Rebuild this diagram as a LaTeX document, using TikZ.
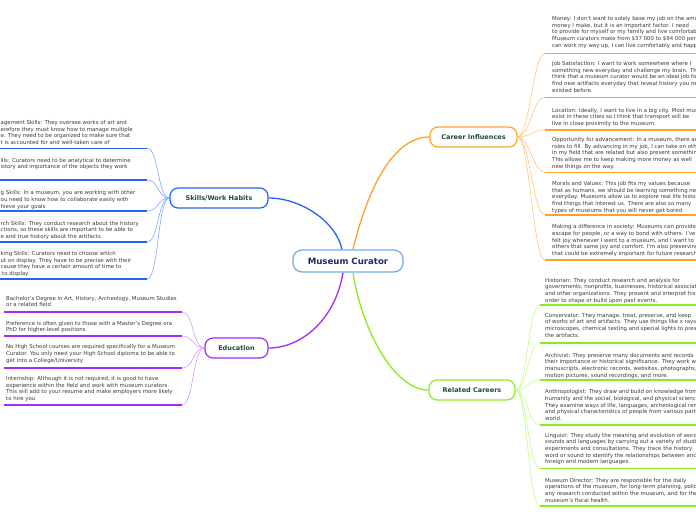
\documentclass[tikz,border=0pt]{standalone}
\usepackage{fontspec}
\setmainfont{DejaVu Sans}
\usetikzlibrary{calc}

\definecolor{rootblue}{HTML}{72AEE6}
\definecolor{rootink}{HTML}{1B2B5C}
\definecolor{labelgreen}{HTML}{1E4A3D}
\definecolor{itemink}{HTML}{3C3C3C}
\definecolor{skillblue}{HTML}{2563F5}
\definecolor{skillfan}{HTML}{86A8FF}
\definecolor{careerorange}{HTML}{FFA329}
\definecolor{careerfan}{HTML}{FFC67F}
\definecolor{edupurple}{HTML}{A52BF5}
\definecolor{edufan}{HTML}{D79BFF}
\definecolor{relgreen}{HTML}{8CEB1E}
\definecolor{relfan}{HTML}{C3FA8A}

\tikzset{
  root/.style={draw=rootblue, line width=1.3pt, rounded corners=9pt, fill=white,
    minimum width=110pt, minimum height=22pt, inner sep=0pt, text=rootink,
    font=\fontsize{8.6}{10}\selectfont\bfseries},
  branch/.style={line width=1.2pt, rounded corners=8pt, fill=white, minimum height=20pt,
    inner sep=0pt, text=labelgreen, font=\fontsize{6.5}{8}\selectfont\bfseries},
  itemtext/.style={anchor=north west, inner sep=0pt, align=left, text=itemink,
    font=\fontsize{5.4}{6.67}\selectfont},
  trunk/.style={line width=1.3pt},
  fan/.style={line width=0.6pt},
  underline/.style={line width=1.6pt},
}

\begin{document}
\begin{tikzpicture}[x=1pt,y=-1pt]
    \fill[white] (0,0) rectangle (696,520);
    \useasboundingbox (0,0) rectangle (696,520);

    % main topic and branches
    \node[root] (root) at (348,261) {Museum Curator};
    \node[branch, draw=skillblue, minimum width=98pt] (skills) at (219,198) {Skills/Work Habits};
    \node[branch, draw=edupurple, minimum width=63pt] (edu) at (236.5,348) {Education};
    \node[branch, draw=careerorange, minimum width=87pt] (career) at (473.5,137) {Career Influences};
    \node[branch, draw=relgreen, minimum width=86pt] (related) at (472,390) {Related Careers};

    \draw[trunk, skillblue] ([xshift=-6pt]root.north) .. controls +(-6,-28) and +(32,0) .. (skills.east);
    \draw[trunk, careerorange] ([xshift=5pt]root.north) .. controls +(12,-50) and +(-40,0) .. (career.west);
    \draw[trunk, edupurple] ([xshift=-5pt]root.south) .. controls +(-8,48) and +(32,0) .. (edu.east);
    \draw[trunk, relgreen] ([xshift=5pt]root.south) .. controls +(9,58) and +(-34,0) .. (related.west);

    % skills / work habits
    \node[itemtext] (skill1) at (0.5,120.1) {agement Skills: They oversee works of art and\\erefore they must know how to manage multiple\\e. They need to be organized to make sure that\\t is accounted for and well-taken care of};
    \node[itemtext] (skill2) at (0.5,157.8) {ills: Curators need to be analytical to determine\\istory and importance of the objects they work};
    \node[itemtext] (skill3) at (0.5,190.5) {g Skills: In a museum, you are working with other\\ou need to know how to collaborate easily with\\hieve your goals};
    \node[itemtext] (skill4) at (0.5,220.8) {rch Skills: They conduct research about the history\\ctions, so these skills are important to be able to\\e and true history about the artifacts};
    \node[itemtext] (skill5) at (0.5,251.1) {king Skills: Curators need to choose which\\ut on display. They have to be precise with their\\cause they have a certain amount of time to\\\hspace*{1.5pt}to display};
    \foreach \u [count=\i] in {148.3,180,211,242,279}
        \coordinate (skillu\i) at (147,\u);
    \foreach \i in {1,...,5}{
        \draw[fan, skillfan] (skills.west) .. controls +(-12,0) and +(12,0) .. (skillu\i);
        \draw[underline, skillblue] (skillu\i) -- ++(-150,0);
    }

    % education
    \node[itemtext] (edu1) at (6,295.8) {Bachelor's Degree in Art, History, Archeology, Museum Studies\\or a related field};
    \node[itemtext] (edu2) at (6,320.8) {Preference is often given to those with a Master's Degree ora\\PhD for higher-level positions};
    \node[itemtext] (edu3) at (6,344.5) {No High School courses are required specifically for a Museum\\Curator. You only need your High School diploma to be able to\\get into a College/University};
    \node[itemtext] (edu4) at (6,376.1) {Internship: Although it is not required, it is good to have\\experience within the field and work with museum curators.\\This will add to your resume and make employers more likely\\to hire you};
    \foreach \u [count=\i] in {312,336,368,405}
        \coordinate (eduu\i) at (182,\u);
    \foreach \i in {1,...,4}{
        \draw[fan, edufan] (edu.west) .. controls +(-12,0) and +(12,0) .. (eduu\i);
        \draw[underline, edupurple] (eduu\i) -- ++(-178,0);
    }

    % career influences
    \node[itemtext] (inf1) at (552,16.1) {Money: I don't want to solely base my job on the amount\\money I make, but it is an important factor. I need\\to provide for myself or my family and live comfortably\\Museum curators make from \$37 000 to \$94 000 per\\can work my way up, I can live comfortably and happily};
    \node[itemtext] (inf2) at (552,61.1) {Job Satisfaction: I want to work somewhere where I\\something new everyday and challenge my brain. This\\think that a museum curator would be an ideal job for\\find new artifacts everyday that reveal history you never\\existed before.};
    \node[itemtext] (inf3) at (552,107.8) {Location: Ideally, I want to live in a big city. Most museums\\exist in these cities so I think that transport will be\\live in close proximity to the museum.};
    \node[itemtext] (inf4) at (552,137.1) {Opportunity for advancement: In a museum, there are\\roles to fill. By advancing in my job, I can take on other\\in my field that are related but also present something\\This allows me to keep making more money as well\\new things on the way.};
    \node[itemtext] (inf5) at (552,181.1) {Morals and Values: This job fits my values because\\that as humans, we should be learning something new\\everyday. Museums allow us to explore real life history\\find things that interest us. There are also so many\\types of museums that you will never get bored.};
    \node[itemtext] (inf6) at (552,224.5) {Making a difference in society: Museums can provide\\escape for people, or a way to bond with others. I've\\felt joy whenever I went to a museum, and I want to\\others that same joy and comfort. I'm also preserving\\that could be extremely important for future research};
    \foreach \u [count=\i] in {53.3,97.3,130,172.3,215,260}
        \coordinate (infu\i) at (545,\u);
    \foreach \i in {1,...,6}{
        \draw[fan, careerfan] (career.east) .. controls +(12,0) and +(-12,0) .. (infu\i);
        \draw[underline, careerorange] (infu\i) -- ++(160,0);
    }

    % related careers
    \node[itemtext] (rel1) at (545,277.8) {Historian: They conduct research and analysis for\\governments, nonprofits, businesses, historical associations,\\and other organizations. They present and interpret history in\\order to shape or build upon past events.};
    \node[itemtext] (rel2) at (545,312.8) {Conservator: They manage, treat, preserve, and keep\\of works of art and artifacts. They use things like x rays,\\microscopes, chemical testing and special lights to preserve\\the artifacts.};
    \node[itemtext] (rel3) at (545,352.8) {Archivist: They preserve many documents and records\\their importance or historical significance. They work with\\manuscripts, electronic records, websites, photographs,\\motion pictures, sound recordings, and more.};
    \node[itemtext] (rel4) at (545,389.5) {Anthropologist: They draw and build on knowledge from\\humanity and the social, biological, and physical sciences.\\They examine ways of life, languages, archeological remains\\and physical characteristics of people from various parts\\world.};
    \node[itemtext] (rel5) at (545,432.8) {Linguist: They study the meaning and evolution of words\\sounds and languages by carrying out a variety of studies,\\experiments and consultations. They trace the history\\word or sound to identify the relationships between ancient\\foreign and modern languages.};
    \node[itemtext] (rel6) at (545,477.8) {Museum Director: They are responsible for the daily\\operations of the museum, for long-term planning, policy,\\any research conducted within the museum, and for the\\museum's fiscal health.};
    \foreach \u [count=\i] in {305,342.7,380,425,468.3,506}
        \coordinate (relu\i) at (540,\u);
    \foreach \i in {1,...,6}{
        \draw[fan, relfan] (related.east) .. controls +(12,0) and +(-12,0) .. (relu\i);
        \draw[underline, relgreen] (relu\i) -- ++(160,0);
    }
\end{tikzpicture}
\end{document}
